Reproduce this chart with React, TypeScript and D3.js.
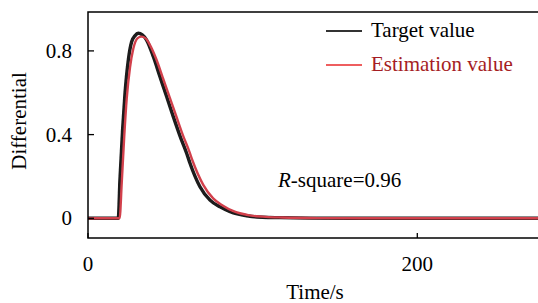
import React from "react";
import * as d3 from "d3";

const targetTime = [0, 18.4, 19.4, 21.0, 22.5, 24.5, 26.5, 28.5, 30.5, 33, 35.6, 39.7, 43.7, 47.8, 51.8, 55.9, 59.9, 62, 68, 74.1, 80.2, 86.3, 96.4, 106, 116.6, 135, 160, 200, 280];
const targetValue = [0, 0, 0.183, 0.422, 0.599, 0.757, 0.844, 0.872, 0.884, 0.877, 0.852, 0.772, 0.677, 0.581, 0.486, 0.393, 0.311, 0.262, 0.151, 0.087, 0.055, 0.032, 0.012, 0.005, 0.003, 0.001, 0, 0, 0];

const estTime = [0, 19.2, 20.5, 22, 23.5, 25.5, 27.5, 30, 32.5, 35, 37.5, 41.5, 45.5, 49.5, 53.5, 57.5, 61.5, 63.5, 70, 76, 82, 88, 98, 108, 118, 140, 165, 200, 280];
const estValue = [0, 0, 0.17, 0.39, 0.57, 0.72, 0.81, 0.86, 0.868, 0.86, 0.83, 0.76, 0.67, 0.58, 0.49, 0.40, 0.32, 0.275, 0.16, 0.095, 0.06, 0.035, 0.014, 0.007, 0.004, 0.001, 0, 0, 0];

const xTicks = [0, 200];
const yTicks = [0, 0.4, 0.8];
const legendLabels = ["Target value", "Estimation value"];
const rSquareLabel = "0.96";

export default function App() {
  const W = 538, H = 303;
  const left = 88, right = 542, top = 12, bottom = 238;
  const x = d3.scaleLinear().domain([0, 200]).range([left, 417.3]);
  const y = d3.scaleLinear().domain([0, 0.8]).range([218.3, 50.9]);
  const line = d3.line<number>().curve(d3.curveMonotoneX);
  const tPath = line(targetTime.map((t, i) => [x(t), y(targetValue[i])] as any) as any) as string;
  const ePath = line(estTime.map((t, i) => [x(t), y(estValue[i])] as any) as any) as string;
  const fmt = d3.format("~g");
  return (
    <svg width={W} height={H} style={{ position: "absolute", left: 0, top: 0, background: "#fff", fontFamily: "Liberation Serif, Tinos, Times New Roman, serif" }}>
      <defs>
        <clipPath id="plot">
          <rect x={left} y={top} width={right - left} height={bottom - top} />
        </clipPath>
        <filter id="soft" x="-5%" y="-5%" width="110%" height="110%">
          <feGaussianBlur stdDeviation="0.45" />
        </filter>
      </defs>
      <g clipPath="url(#plot)" filter="url(#soft)">
        <path d={tPath} fill="none" stroke="#1a1a1a" strokeWidth={3.4} strokeLinejoin="round" />
        <path d={ePath} fill="none" stroke="#d2404c" strokeWidth={2.4} strokeLinejoin="round" />
      </g>
      <rect x={left} y={top} width={right - left} height={bottom - top} fill="none" stroke="#000" strokeWidth={1.5} />
      {yTicks.map((v) => (
        <g key={"y" + v}>
          <line x1={left} x2={left + 6} y1={y(v)} y2={y(v)} stroke="#000" strokeWidth={1.3} />
          <text x={72} y={y(v) + 7} textAnchor="end" fontSize={21} fill="#000">{fmt(v)}</text>
        </g>
      ))}
      {xTicks.map((v) => (
        <g key={"x" + v}>
          <line x1={x(v)} x2={x(v)} y1={bottom} y2={bottom - 5} stroke="#000" strokeWidth={1.3} />
          <text x={x(v)} y={270.5} textAnchor="middle" fontSize={21} fill="#000">{fmt(v)}</text>
        </g>
      ))}
      <text x={315} y={298.5} textAnchor="middle" fontSize={21} fill="#000">Time/s</text>
      <text transform={`translate(25.5,121) rotate(-90)`} textAnchor="middle" fontSize={21} fill="#000">Differential</text>
      <line x1={326} x2={362} y1={31} y2={31} stroke="#333" strokeWidth={2} />
      <text x={371} y={36.5} fontSize={21} fill="#000">{legendLabels[0]}</text>
      <line x1={326} x2={362} y1={65} y2={65} stroke="#e8282a" strokeWidth={1.5} />
      <text x={371} y={70.5} fontSize={21} fill="#a51d23">{legendLabels[1]}</text>
      <text x={278} y={187} fontSize={21} fill="#000">
        <tspan fontStyle="italic">R</tspan>-square={rSquareLabel}
      </text>
    </svg>
  );
}
